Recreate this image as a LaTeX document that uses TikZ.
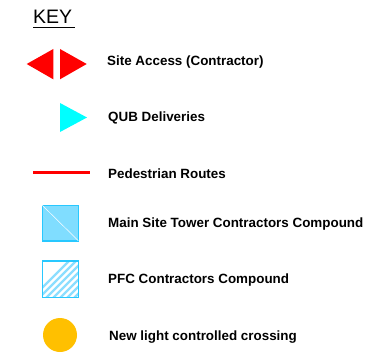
\documentclass[tikz,border=0pt]{standalone}
\usepackage{fontspec}
\setmainfont{Liberation Sans}
\usepackage{tikz}
\definecolor{keyred}{RGB}{255,0,0}
\definecolor{keycyan}{RGB}{0,255,255}
\definecolor{towerfill}{RGB}{128,221,255}
\definecolor{towerline}{RGB}{40,200,255}
\definecolor{hatchblue}{RGB}{140,222,255}
\definecolor{crossing}{RGB}{255,192,0}
\tikzstyle{key text} = [anchor=west,font=\bfseries\fontsize{13.4}{15}\selectfont,inner sep=0]
\tikzstyle{compound} = [draw=towerline,line width=1.6]

\begin{document}
\begin{tikzpicture}[x=1pt,y=-1pt]
\useasboundingbox (0,0) rectangle (382,361);

    % heading
    \node(key)[anchor=base west,inner sep=0,font=\fontsize{19.5}{22}\selectfont] at (33,23.5){KEY};
    \draw[line width=1.3](key.south west)++(0,4) -- ++(42,0);

    % site access
    \fill[keyred] (26.7,64) -- (53.3,49) -- (53.3,79.3) -- cycle;
    \fill[keyred] (86.7,64) -- (60,49) -- (60,79.3) -- cycle;
    \node(access)[key text] at (107,62){Site Access (Contractor)};

    % deliveries
    \fill[keycyan] (87,117.5) -- (60,103) -- (60,132) -- cycle;
    \node(qub)[key text] at (108,118){QUB Deliveries};

    % pedestrian
    \draw[keyred,line width=3] (33,172.5) -- (90,172.5);
    \node(ped)[key text] at (108,174){Pedestrian Routes};

    % main site tower compound
    \filldraw[compound,fill=towerfill] (42.3,205.3) rectangle (78.3,240.7);
    \draw[white,line width=0.5] (42.3,205.3) -- (78.3,240.7);
    \node(tower)[key text] at (108,224){Main Site Tower Contractors Compound};

    % pfc compound
    \begin{scope}
        \clip (42.3,260.7) rectangle (78.3,297.3);
        \foreach \i in {0,...,11}
            \draw[hatchblue,line width=2.2] (30+7*\i,300) -- ++(45,-45);
    \end{scope}
    \draw[compound] (42.3,260.7) rectangle (78.3,297.3);
    \node(pfc)[key text] at (108,280){PFC Contractors Compound};

    % crossing
    \fill[crossing] (60,335) circle (17);
    \node(cross)[key text] at (109,337){New light controlled crossing};

\end{tikzpicture}
\end{document}
